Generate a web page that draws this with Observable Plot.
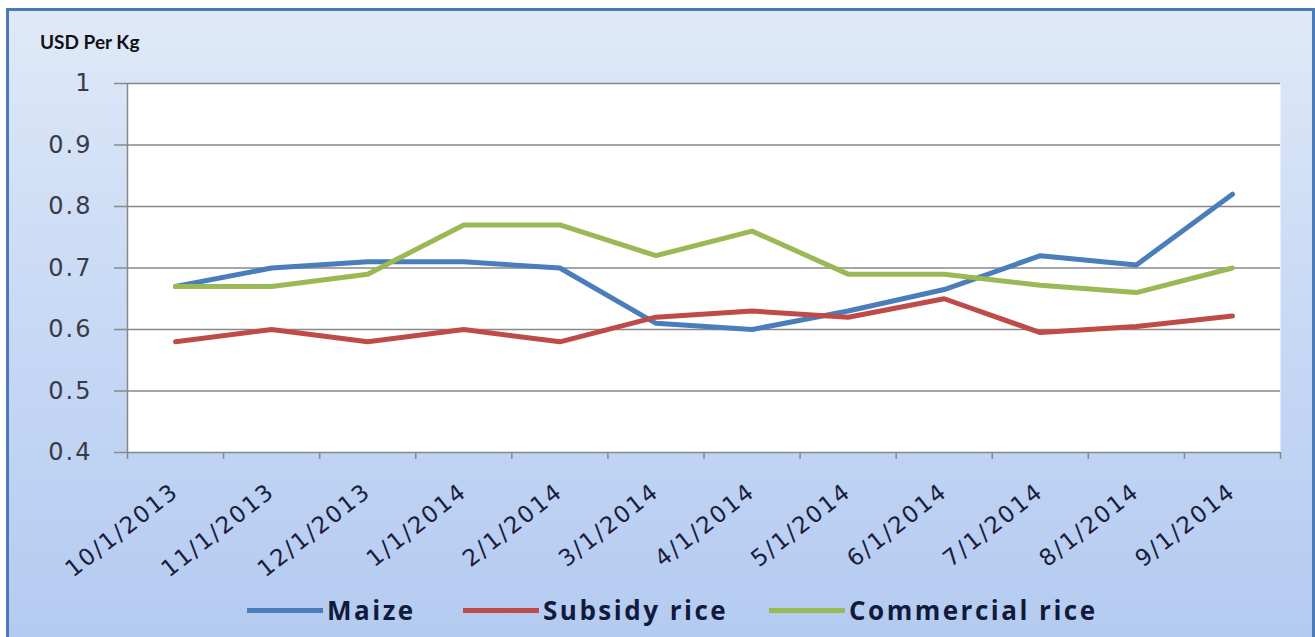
<!DOCTYPE html>
<html><head><meta charset="utf-8">
<script src="https://cdn.jsdelivr.net/npm/d3@7"></script>
<script src="https://cdn.jsdelivr.net/npm/@observablehq/plot@0.6"></script>
<style>
body{margin:0;background:#fff;}
#wrap{position:relative;width:1315px;height:637px;overflow:hidden;background:#fff;}
#frame{position:absolute;left:6px;top:8px;width:1303px;height:640px;border:3px solid #4a7ab8;background:linear-gradient(to bottom,#dfe9f8 0%,#c9daf5 45%,#b3caf0 100%);}
#title{position:absolute;left:40px;top:30px;font:bold 19px Lato;color:#111;}
#chart{position:absolute;left:0;top:60px;}
.leg{position:absolute;top:592px;display:flex;align-items:center;font:bold 26px "Open Sans";color:#111a3a;letter-spacing:2.5px;white-space:nowrap;}
.sw{width:76px;height:5px;margin-right:4px;}
</style></head>
<body>
<div id="wrap">
  <div id="frame"></div>
  <div id="title">USD Per Kg</div>
  <div id="chart"></div>
</div>
<script>
const months = ["10/1/2013","11/1/2013","12/1/2013","1/1/2014","2/1/2014","3/1/2014","4/1/2014","5/1/2014","6/1/2014","7/1/2014","8/1/2014","9/1/2014"];
const maize      = [0.67, 0.70, 0.71, 0.71, 0.70, 0.61, 0.60, 0.63, 0.665, 0.72, 0.705, 0.82];
const subsidy    = [0.58, 0.60, 0.58, 0.60, 0.58, 0.62, 0.63, 0.62, 0.65, 0.595, 0.605, 0.622];
const commercial = [0.67, 0.67, 0.69, 0.77, 0.77, 0.72, 0.76, 0.69, 0.69, 0.672, 0.66, 0.70];
const seriesNames  = ["Maize", "Subsidy rice", "Commercial rice"];
const seriesColors = ["#4a7ebb", "#be4b48", "#98b954"];
const yTicks = [0.4, 0.5, 0.6, 0.7, 0.8, 0.9, 1];
const legendLeft = [247, 463, 769];

const rows = [];
[maize, subsidy, commercial].forEach((vals, s) =>
  vals.forEach((v, i) => rows.push({series: seriesNames[s], i, month: months[i], value: v})));
const idx = months.map((_, i) => i);
const edges = d3.range(months.length + 1).map(i => i - 0.5);

const chart = Plot.plot({
  width: 1315, height: 530,
  marginLeft: 127, marginRight: 35, marginTop: 23, marginBottom: 138,
  style: {background: "transparent", overflow: "visible"},
  x: {domain: [-0.5, months.length - 0.5], axis: null},
  y: {domain: [0.4, 1], axis: null},
  color: {domain: seriesNames, range: seriesColors},
  marks: [
    Plot.frame({fill: "white", stroke: null}),
    Plot.gridY(yTicks, {stroke: "#888", strokeOpacity: 1, strokeWidth: 1.5}),
    Plot.ruleX([-0.5], {stroke: "#888", strokeWidth: 1.5}),
    Plot.axisY(yTicks, {tickSize: 13, tickPadding: 22, stroke: "#888", strokeWidth: 1.5, fontSize: 24,
      fontFamily: "DejaVu Sans", fill: "#3b3b48", tickFormat: d => d === 1 ? "1" : d.toFixed(1), label: null}),
    Plot.axisX(edges, {tickSize: 7, tickFormat: () => "", stroke: "#888", strokeWidth: 1.5, label: null}),
    Plot.axisX(idx, {tickSize: 0, tickPadding: 36, tickRotate: -38, tickFormat: i => months[i], fontSize: 23,
      fontFamily: "DejaVu Sans", fill: "#1a1d3c", textAnchor: "end", lineAnchor: "middle", label: null}),
    Plot.line(rows, {x: "i", y: "value", z: "series", stroke: "series", strokeWidth: 5, strokeLinejoin: "round"})
  ]
});
d3.select(chart).selectAll("[aria-label='y-axis tick label'] text").style("letter-spacing", "2px");
d3.select(chart).selectAll("[aria-label='x-axis tick label'] text").style("letter-spacing", "2px");
document.getElementById("chart").appendChild(chart);

const wrap = document.getElementById("wrap");
seriesNames.forEach((name, k) => {
  const d = document.createElement("div");
  d.className = "leg";
  d.style.left = legendLeft[k] + "px";
  const sw = document.createElement("span");
  sw.className = "sw";
  sw.style.background = seriesColors[k];
  const t = document.createElement("span");
  t.textContent = name;
  d.appendChild(sw); d.appendChild(t);
  wrap.appendChild(d);
});
</script>
</body></html>
